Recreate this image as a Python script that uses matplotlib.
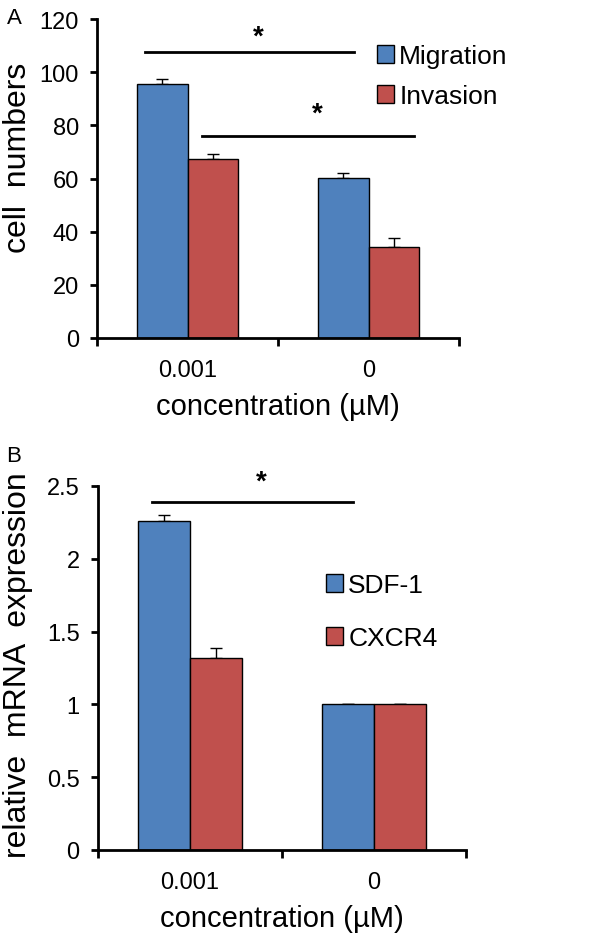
import numpy as np
import matplotlib
matplotlib.use("Agg")
import matplotlib.pyplot as plt

plt.rcParams['font.family'] = ['Liberation Sans', 'DejaVu Sans']

# data
conc = ['0.001', '0']

# panel A: cell numbers
migration = [95.5, 60.2]
migration_err = [2.0, 2.0]
invasion = [67.3, 34.3]
invasion_err = [2.0, 3.2]

# panel B: relative mRNA expression
sdf1 = [2.26, 1.0]
sdf1_err = [0.04, 0.005]
cxcr4 = [1.32, 1.0]
cxcr4_err = [0.07, 0.005]

blue = '#4F81BD'
red = '#C0504D'


def style_axes(ax, ymax, ystep, ylabels):
    for s in ['top', 'right']:
        ax.spines[s].set_visible(False)
    for s in ['left', 'bottom']:
        ax.spines[s].set_linewidth(2.0)
    ax.set_xlim(-0.5, 1.5)
    ax.set_ylim(0, ymax)
    ax.set_yticks(np.arange(0, ymax + ystep / 2, ystep))
    ax.set_yticklabels(ylabels, fontsize=17)
    # category borders carry the tick marks, labels sit at centres
    ax.set_xticks([-0.5, 0.5, 1.5])
    ax.set_xticklabels([])
    ax.set_xticks([0, 1], minor=True)
    ax.set_xticklabels(conc, minor=True, fontsize=17)
    ax.tick_params(axis='x', which='major', direction='out', length=6, width=2)
    ax.tick_params(axis='x', which='minor', length=0, pad=15)
    ax.tick_params(axis='y', direction='out', length=5, width=2, pad=8)
    ax.set_xlabel('concentration (µM)', fontsize=21, labelpad=8)


def bars(ax, v1, e1, v2, e2, w):
    x = np.arange(len(conc))
    ax.bar(x - w / 2, v1, w, color=blue, edgecolor='black', linewidth=1, zorder=2)
    ax.bar(x + w / 2, v2, w, color=red, edgecolor='black', linewidth=1, zorder=2)
    ax.errorbar(x - w / 2, v1, yerr=[np.zeros(len(v1)), e1], fmt='none',
                ecolor='black', elinewidth=1, capsize=4, capthick=1, zorder=1)
    ax.errorbar(x + w / 2, v2, yerr=[np.zeros(len(v2)), e2], fmt='none',
                ecolor='black', elinewidth=1, capsize=4, capthick=1, zorder=1)


def sig(ax, x0, x1, y, ystar):
    ax.plot([x0, x1], [y, y], color='black', lw=2, clip_on=False)
    ax.text((x0 + x1) / 2 + 0.05, ystar, '*', ha='center', va='center',
            fontsize=20, fontweight='bold', clip_on=False)


fig = plt.figure(figsize=(6, 9.45), dpi=100)

# ---- panel A
axA = fig.add_axes([0.1617, 0.6413, 0.6033, 0.3375])
bars(axA, migration, migration_err, invasion, invasion_err, 0.28)
style_axes(axA, 120, 20, ['0', '20', '40', '60', '80', '100', '120'])
sig(axA, -0.235, 0.92, 107.7, 113.5)
sig(axA, 0.08, 1.25, 76.0, 84.5)
hA = [plt.Rectangle((0, 0), 1, 1, fc=blue, ec='black', lw=1),
      plt.Rectangle((0, 0), 1, 1, fc=red, ec='black', lw=1)]
fig.legend(hA, ['Migration', 'Invasion'], loc='upper left',
           bbox_to_anchor=(0.628, 0.952), frameon=False, fontsize=19,
           handlelength=0.65, handleheight=0.65, handletextpad=0.2,
           labelspacing=0.6, borderpad=0, borderaxespad=0)
fig.text(18 / 600, 1 - 158 / 945, 'cell  numbers', rotation=90,
         ha='center', va='center', fontsize=23)
fig.text(7 / 600, 1 - 18 / 945, 'A', ha='left', va='center', fontsize=16)

# ---- panel B
axB = fig.add_axes([0.163, 0.0995, 0.614, 0.3852])
bars(axB, sdf1, sdf1_err, cxcr4, cxcr4_err, 0.283)
style_axes(axB, 2.5, 0.5, ['0', '0.5', '1', '1.5', '2', '2.5'])
sig(axB, -0.204, 0.883, 2.39, 2.53)
hB = [plt.Rectangle((0, 0), 1, 1, fc=blue, ec='black', lw=1),
      plt.Rectangle((0, 0), 1, 1, fc=red, ec='black', lw=1)]
fig.legend(hB, ['SDF-1', 'CXCR4'], loc='upper left',
           bbox_to_anchor=(0.543, 1 - 574 / 945), frameon=False, fontsize=19,
           handlelength=0.65, handleheight=0.65, handletextpad=0.2,
           labelspacing=1.1, borderpad=0, borderaxespad=0)
fig.text(18 / 600, 1 - 665 / 945, 'relative  mRNA  expression', rotation=90,
         ha='center', va='center', fontsize=23)
fig.text(6 / 600, 1 - 457 / 945, 'B', ha='left', va='center', fontsize=16)

fig.savefig('out.png', dpi=100)
